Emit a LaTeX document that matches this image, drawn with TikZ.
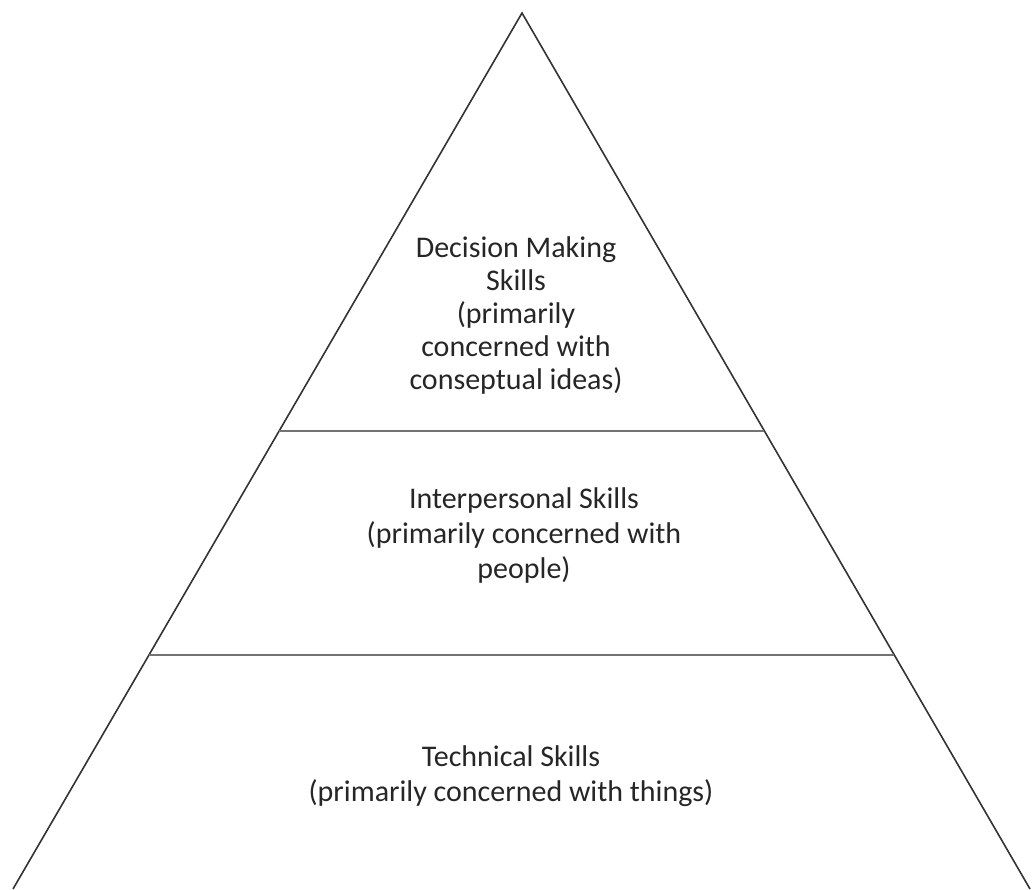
\documentclass[tikz,border=0pt]{standalone}
\usepackage{fontspec}
\setmainfont{Carlito}
\usetikzlibrary{calc}
\tikzset{
  side/.style={line width=1.6pt, black!80},
  tier/.style={line width=1.4pt, black!55},
  label/.style={align=center, font=\fontsize{30}{35}\selectfont, text=black!85, inner sep=0pt}
}
\begin{document}
\begin{tikzpicture}[x=1pt, y=-1pt]
        \useasboundingbox (0,0) rectangle (1032,890);
        \coordinate (apex) at (522,13);
        \coordinate (bl) at (13,889);
        \coordinate (br) at (1030,889);
        \coordinate (upl) at ($(apex)!0.477!(bl)$);
        \coordinate (upr) at ($(apex)!0.477!(br)$);
        \coordinate (lol) at ($(apex)!0.733!(bl)$);
        \coordinate (lor) at ($(apex)!0.733!(br)$);

        \draw [side] (bl) -- (apex) -- (br);
        \draw [tier] (upl) -- (upr);
        \draw [tier] (lol) -- (lor);

        \node [label, font=\fontsize{30}{33}\selectfont] (decision) at (516,316)
          {Decision Making\\Skills\\(primarily\\concerned with\\conseptual ideas)};
        \node [label] (interpersonal) at (524,535)
          {Interpersonal Skills\\(primarily concerned with\\people)};
        \node [label] (technical) at (511,776)
          {Technical Skills\\(primarily concerned with things)};
      \end{tikzpicture}
\end{document}
